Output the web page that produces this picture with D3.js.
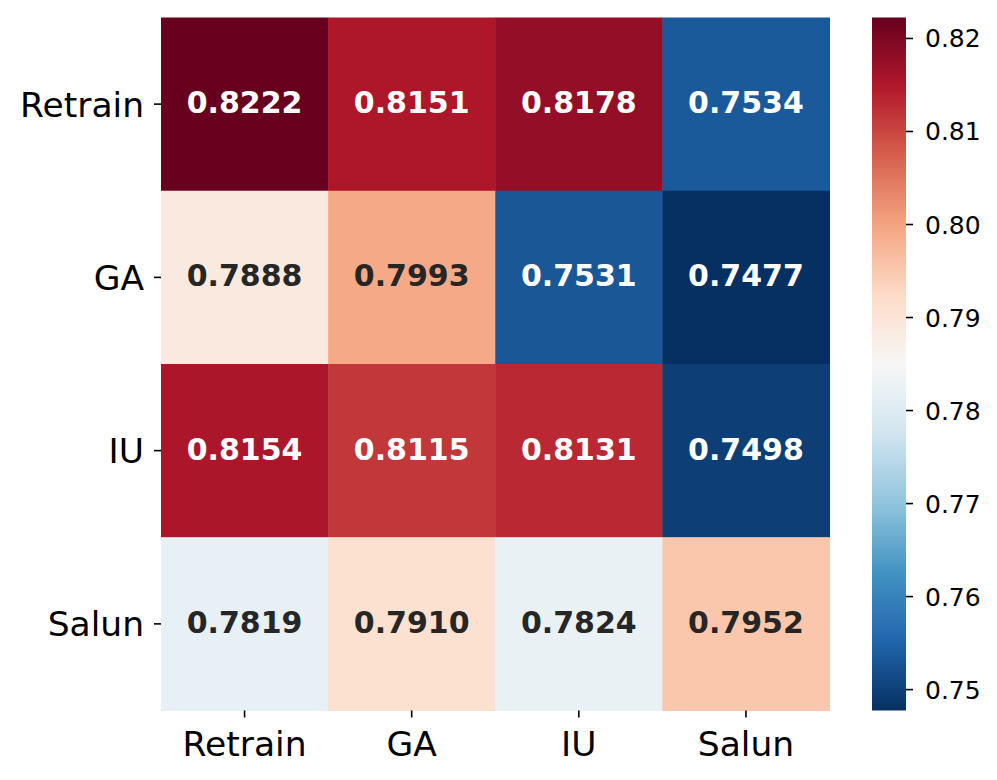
<!DOCTYPE html>
<html>
<head>
<meta charset="utf-8">
<script src="https://cdn.jsdelivr.net/npm/d3@7"></script>
<style>
  html, body { margin: 0; padding: 0; background: #fff; }
  svg { display: block; }
  text { font-family: "DejaVu Sans", sans-serif; }
</style>
</head>
<body>
<svg id="chart" width="997" height="780"></svg>
<script>
// ---- data ----
const rowLabels = ["Retrain", "GA", "IU", "Salun"];
const colLabels = ["Retrain", "GA", "IU", "Salun"];
const valuesRetrain = [0.8222, 0.8151, 0.8178, 0.7534];
const valuesGA      = [0.7888, 0.7993, 0.7531, 0.7477];
const valuesIU      = [0.8154, 0.8115, 0.8131, 0.7498];
const valuesSalun   = [0.7819, 0.7910, 0.7824, 0.7952];
const colorbarTicks = [0.75, 0.76, 0.77, 0.78, 0.79, 0.80, 0.81, 0.82];

const matrix = [valuesRetrain, valuesGA, valuesIU, valuesSalun];
const cells = [];
matrix.forEach((row, i) => row.forEach((v, j) => cells.push({ row: rowLabels[i], col: colLabels[j], value: v })));

// ---- layout ----
const svg = d3.select("#chart");
const mLeft = 161, mRight = 829.5, mTop = 17.5, mBottom = 710.5;
const cbLeft = 872, cbRight = 906;

const x = d3.scaleBand().domain(colLabels).range([mLeft, mRight]).padding(0);
const y = d3.scaleBand().domain(rowLabels).range([mTop, mBottom]).padding(0);

const allVals = cells.map(d => d.value);
const vmin = d3.min(allVals), vmax = d3.max(allVals);

// matplotlib RdBu_r (linear segmented from ColorBrewer 11 colors)
const rdbu = ["#67001f", "#b2182b", "#d6604d", "#f4a582", "#fddbc7", "#f7f7f7",
              "#d1e5f0", "#92c5de", "#4393c3", "#2166ac", "#053061"].reverse();
const cmap = d3.scaleLinear()
  .domain(d3.range(rdbu.length).map(i => i / (rdbu.length - 1)))
  .range(rdbu)
  .interpolate(d3.interpolateRgb)
  .clamp(true);
const norm = d3.scaleLinear().domain([vmin, vmax]).range([0, 1]);
const color = v => cmap(norm(v));

function luminance(c) {
  const rgb = d3.rgb(c);
  const f = u => { u /= 255; return u <= 0.03928 ? u / 12.92 : Math.pow((u + 0.055) / 1.055, 2.4); };
  return 0.2126 * f(rgb.r) + 0.7152 * f(rgb.g) + 0.0722 * f(rgb.b);
}

// ---- cells ----
svg.append("g").selectAll("rect").data(cells).join("rect")
  .attr("x", d => x(d.col))
  .attr("y", d => y(d.row))
  .attr("width", x.bandwidth() + 0.5)
  .attr("height", y.bandwidth() + 0.5)
  .attr("fill", d => color(d.value));

svg.append("g").selectAll("text").data(cells).join("text")
  .attr("x", d => x(d.col) + x.bandwidth() / 2)
  .attr("y", d => y(d.row) + y.bandwidth() / 2 + 9)
  .attr("text-anchor", "middle")
  .attr("font-size", 30)
  .attr("font-weight", "bold")
  .attr("fill", d => luminance(color(d.value)) > 0.408 ? "#262626" : "#ffffff")
  .text(d => d.value.toFixed(4));

// ---- axes ----
const xAxis = d3.axisBottom(x).tickSize(7).tickPadding(7);
const gx = svg.append("g").attr("transform", `translate(0,${mBottom})`).call(xAxis);
gx.select(".domain").remove();
gx.selectAll(".tick line").attr("stroke", "#000").attr("stroke-width", 1.6);
gx.selectAll(".tick text").attr("font-size", 34.5).attr("fill", "#000")
  .attr("dy", null).attr("y", 45);

const yAxis = d3.axisLeft(y).tickSize(7).tickPadding(7);
const gy = svg.append("g").attr("transform", `translate(${mLeft},0)`).call(yAxis);
gy.select(".domain").remove();
gy.selectAll(".tick line").attr("stroke", "#000").attr("stroke-width", 1.6);
gy.selectAll(".tick text").attr("font-size", 34.5).attr("fill", "#000")
  .attr("dy", null).attr("x", -17).attr("y", 12.5);

// ---- colorbar ----
const cbScale = d3.scaleLinear().domain([vmin, vmax]).range([mBottom, mTop]);
const defs = svg.append("defs");
const grad = defs.append("linearGradient").attr("id", "cbgrad")
  .attr("x1", 0).attr("y1", 1).attr("x2", 0).attr("y2", 0);
d3.range(0, 1.0001, 0.02).forEach(t => {
  grad.append("stop").attr("offset", t).attr("stop-color", cmap(t));
});
svg.append("rect")
  .attr("x", cbLeft).attr("y", mTop)
  .attr("width", cbRight - cbLeft).attr("height", mBottom - mTop)
  .attr("fill", "url(#cbgrad)");

const cbAxis = d3.axisRight(cbScale).tickValues(colorbarTicks).tickFormat(d3.format(".2f"))
  .tickSize(7).tickPadding(7);
const gcb = svg.append("g").attr("transform", `translate(${cbRight},0)`).call(cbAxis);
gcb.select(".domain").remove();
gcb.selectAll(".tick line").attr("stroke", "#000").attr("stroke-width", 1.6);
gcb.selectAll(".tick text").attr("font-size", 25).attr("fill", "#000")
  .attr("dy", null).attr("x", 19).attr("y", 9);
</script>
</body>
</html>
